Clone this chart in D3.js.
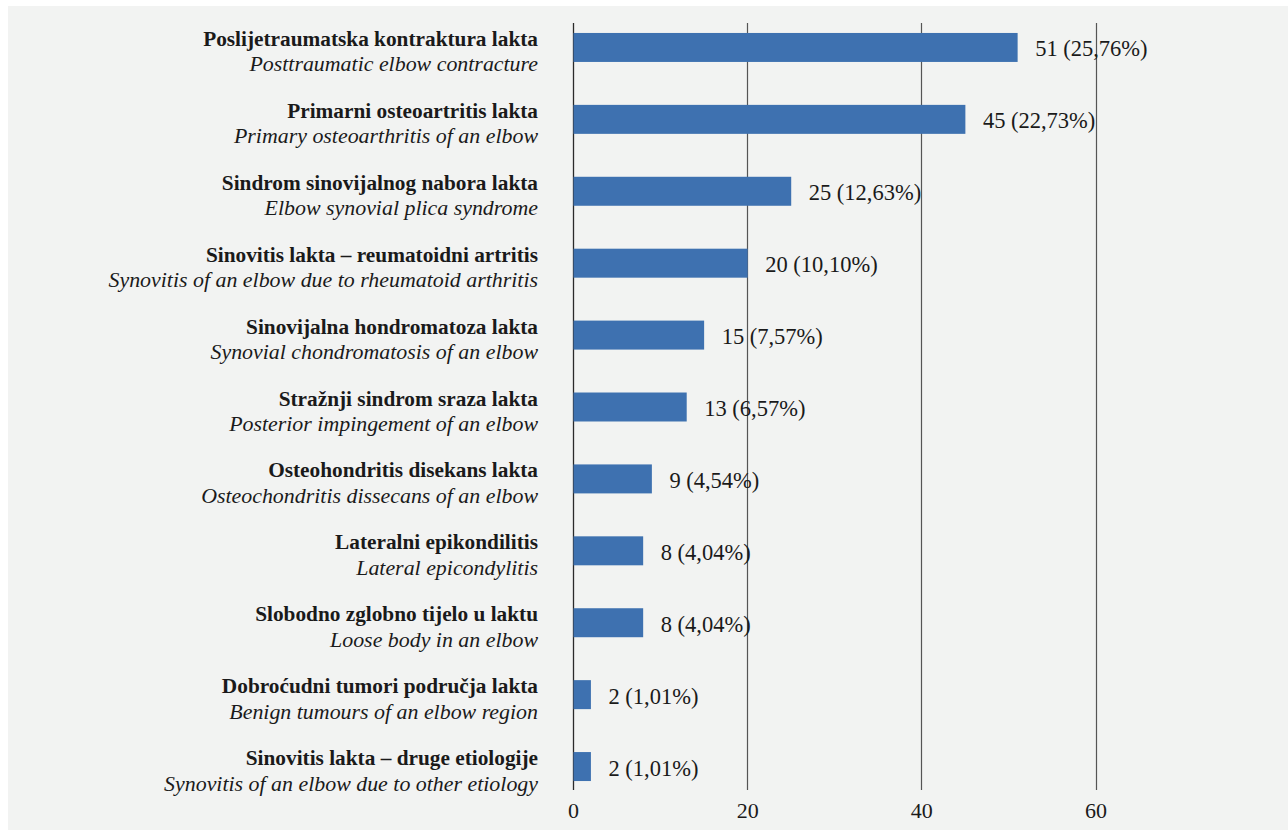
<!DOCTYPE html>
<html>
<head>
<meta charset="utf-8">
<script src="https://cdn.jsdelivr.net/npm/d3@7/dist/d3.min.js"></script>
<style>
  html, body { margin: 0; padding: 0; background: #ffffff; }
  svg { display: block; }
  text { font-family: "Liberation Serif", "Times New Roman", serif; fill: #1a1a1a; }
</style>
</head>
<body>
<svg id="chart" width="1288" height="830"></svg>
<script>
const categoriesHr = [
  "Poslijetraumatska kontraktura lakta",
  "Primarni osteoartritis lakta",
  "Sindrom sinovijalnog nabora lakta",
  "Sinovitis lakta – reumatoidni artritis",
  "Sinovijalna hondromatoza lakta",
  "Stražnji sindrom sraza lakta",
  "Osteohondritis disekans lakta",
  "Lateralni epikondilitis",
  "Slobodno zglobno tijelo u laktu",
  "Dobroćudni tumori područja lakta",
  "Sinovitis lakta – druge etiologije"
];
const categoriesEn = [
  "Posttraumatic elbow contracture",
  "Primary osteoarthritis of an elbow",
  "Elbow synovial plica syndrome",
  "Synovitis of an elbow due to rheumatoid arthritis",
  "Synovial chondromatosis of an elbow",
  "Posterior impingement of an elbow",
  "Osteochondritis dissecans of an elbow",
  "Lateral epicondylitis",
  "Loose body in an elbow",
  "Benign tumours of an elbow region",
  "Synovitis of an elbow due to other etiology"
];
const counts = [51, 45, 25, 20, 15, 13, 9, 8, 8, 2, 2];
const percents = ["25,76%", "22,73%", "12,63%", "10,10%", "7,57%", "6,57%", "4,54%", "4,04%", "4,04%", "1,01%", "1,01%"];
const tickValues = [0, 20, 40, 60];

const svg = d3.select("#chart");

// panel background
svg.append("rect")
  .attr("x", 8).attr("y", 6).attr("width", 1280).attr("height", 824)
  .attr("fill", "#f2f3f2");

const x = d3.scaleLinear().domain([0, 60]).range([573, 1095.5]);
const y = d3.scaleBand().domain(d3.range(counts.length)).range([11.5, 802.5]).paddingInner(0.597).paddingOuter(0.2985);

const gridTop = 23, gridBottom = 790;

// gridlines
svg.append("g").selectAll("line")
  .data(tickValues)
  .join("line")
  .attr("x1", d => Math.round(x(d)) + 0.5)
  .attr("x2", d => Math.round(x(d)) + 0.5)
  .attr("y1", gridTop).attr("y2", gridBottom)
  .attr("stroke", d => d === 0 ? "#2a2a2a" : "#555")
  .attr("stroke-width", d => d === 0 ? 1.3 : 1.2);

// bars
svg.append("g").selectAll("rect")
  .data(counts)
  .join("rect")
  .attr("x", x(0) + 0.5)
  .attr("y", (d, i) => y(i))
  .attr("width", d => x(d) - x(0))
  .attr("height", y.bandwidth())
  .attr("fill", "#3e71b0");

// value labels
svg.append("g").selectAll("text")
  .data(counts)
  .join("text")
  .attr("x", d => x(d) + 18)
  .attr("y", (d, i) => y(i) + y.bandwidth() / 2 + 9)
  .attr("font-size", 22.5)
  .text((d, i) => `${d} (${percents[i]})`);

// category labels
const lab = svg.append("g").selectAll("g")
  .data(counts)
  .join("g")
  .attr("transform", (d, i) => `translate(538, ${y(i) + y.bandwidth() / 2})`);
lab.append("text")
  .attr("text-anchor", "end")
  .attr("y", -1.5)
  .attr("font-size", 21.3)
  .attr("font-weight", "bold")
  .text((d, i) => categoriesHr[i]);
lab.append("text")
  .attr("text-anchor", "end")
  .attr("y", 24)
  .attr("font-size", 21.9)
  .attr("font-style", "italic")
  .text((d, i) => categoriesEn[i]);

// x axis tick labels
const xAxis = d3.axisBottom(x).tickValues(tickValues).tickSize(0).tickPadding(0).tickFormat(d3.format("d"));
const ax = svg.append("g").attr("transform", `translate(0, ${gridBottom})`).call(xAxis);
ax.select(".domain").remove();
ax.selectAll("text")
  .attr("dy", null)
  .attr("y", 28)
  .attr("font-size", 22)
  .style("font-family", "'Liberation Serif', serif")
  .attr("fill", "#1a1a1a");
</script>
</body>
</html>
